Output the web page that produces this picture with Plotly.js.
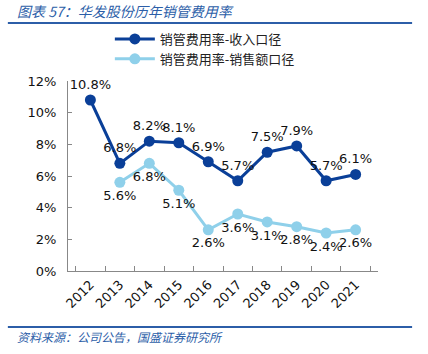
<!DOCTYPE html>
<html><head><meta charset="utf-8">
<script src="https://cdn.plot.ly/plotly-3.0.1.min.js"></script>
<style>html,body{margin:0;padding:0;background:#fff}#c{width:428px;height:354px}</style>
</head><body><div id="c"></div>
<script>
const years = ['2012','2013','2014','2015','2016','2017','2018','2019','2020','2021'];
const revenueRate = [10.8, 6.8, 8.2, 8.1, 6.9, 5.7, 7.5, 7.9, 5.7, 6.1];
const salesRate = [null, 5.6, 6.8, 5.1, 2.6, 3.6, 3.1, 2.8, 2.4, 2.6];
const seriesNames = ['销管费用率-收入口径', '销管费用率-销售额口径'];
const titleText = '图表 57：华发股份历年销管费用率';
const sourceText = '资料来源：公司公告，国盛证券研究所';

const dark = '#0a3f98', light = '#8fd0ea';
const cjk = '"Noto Sans CJK SC", "DejaVu Sans", sans-serif';
const lblFont = {family: 'DejaVu Sans, Verdana, sans-serif', size: 13, color: '#111'};

const traces = [
  {x: years, y: revenueRate, name: seriesNames[0], type: 'scatter', mode: 'lines+markers+text',
   line: {color: dark, width: 3}, marker: {color: dark, size: 11},
   texttemplate: '%{y:.1f}%', textposition: 'top center', textfont: lblFont, cliponaxis: false},
  {x: years, y: salesRate, name: seriesNames[1], type: 'scatter', mode: 'lines+markers+text',
   line: {color: light, width: 3}, marker: {color: light, size: 11},
   texttemplate: '%{y:.1f}%', textposition: 'bottom center', textfont: lblFont, cliponaxis: false}
];

const layout = {
  width: 428, height: 354,
  margin: {l: 68, r: 50, t: 81, b: 83},
  paper_bgcolor: '#fff', plot_bgcolor: '#fff',
  showlegend: true,
  legend: {x: 0.135, y: 1.30, xanchor: 'left', yanchor: 'top', font: {family: cjk, size: 13, color: '#222'},
           bgcolor: 'rgba(0,0,0,0)', itemwidth: 40},
  xaxis: {type: 'category', showgrid: false, zeroline: false, showline: true, linecolor: '#888', linewidth: 1,
          ticks: 'inside', ticklen: 5, tickcolor: '#888', tickson: 'boundaries', tickangle: -45,
          tickfont: {family: 'DejaVu Sans, Verdana, sans-serif', size: 13, color: '#111'}, fixedrange: true},
  yaxis: {range: [0, 12], dtick: 2, ticksuffix: '%', showgrid: false, zeroline: false, showline: true,
          linecolor: '#888', linewidth: 1, ticks: 'inside', ticklen: 4, tickcolor: '#888', ticklabelstandoff: 8,
          tickfont: {family: 'DejaVu Sans, Verdana, sans-serif', size: 13, color: '#111'}},
  shapes: [
    {type: 'line', xref: 'paper', yref: 'paper', x0: -0.194, x1: 1.11, y0: 1.305, y1: 1.305, line: {color: '#2c5ea8', width: 2}},
    {type: 'line', xref: 'paper', yref: 'paper', x0: -0.194, x1: 1.11, y0: -0.295, y1: -0.295, line: {color: '#2c5ea8', width: 2}}
  ],
  annotations: [
    {text: '<i>' + titleText + '</i>', xref: 'paper', yref: 'paper', x: -0.17, y: 1.37, xanchor: 'left', yanchor: 'middle',
     showarrow: false, font: {family: cjk, size: 14, color: '#2c5ea8'}},
    {text: '<i>' + sourceText + '</i>', xref: 'paper', yref: 'paper', x: -0.17, y: -0.345, xanchor: 'left', yanchor: 'middle',
     showarrow: false, font: {family: cjk, size: 12, color: '#2c5ea8'}}
  ]
};
Plotly.newPlot('c', traces, layout, {displayModeBar: false, staticPlot: true});
</script></body></html>
